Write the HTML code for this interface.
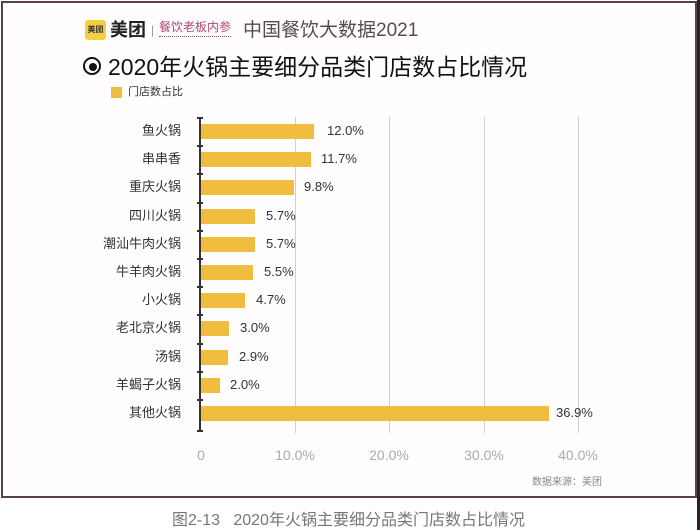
<!DOCTYPE html>
<html><head><meta charset="utf-8">
<style>
html,body{margin:0;padding:0;}
body{width:700px;height:530px;position:relative;background:#fff;overflow:hidden;font-family:"Liberation Sans","Noto Sans CJK SC",sans-serif;}
.abs{position:absolute;white-space:nowrap;}
.frame{position:absolute;left:1px;top:1px;width:692px;height:493px;border:2px solid #5a4048;background:#fffdfd;}
.rbar{position:absolute;left:697px;top:0;width:3px;height:530px;background:#2a2224;}
.cat{position:absolute;right:519px;font-size:13px;color:#333;line-height:16px;text-align:right;}
.bar{position:absolute;left:201px;height:15px;background:#f0bd3e;}
.val{position:absolute;font-size:13px;color:#333;line-height:16px;}
.grid{position:absolute;top:117px;width:1px;height:316px;background:#cfcfcf;}
.tick{position:absolute;font-size:14px;color:#aaa;line-height:16px;transform:translateX(-50%);}
.ht{position:absolute;left:197px;width:6px;height:1.5px;background:#333;}
</style></head><body>
<div class="frame"></div>
<div class="rbar"></div>

<!-- header -->
<div class="abs" style="left:85px;top:20px;width:21px;height:20px;background:#f3cf45;border-radius:3px;font-size:8px;line-height:20px;text-align:center;color:#333;font-weight:bold;">美团</div>
<div class="abs" style="left:110px;top:18px;font-size:18px;line-height:24px;font-weight:bold;color:#222;">美团</div>
<div class="abs" style="left:151px;top:21px;font-size:12px;line-height:18px;color:#999;">|</div>
<div class="abs" style="left:159px;top:19px;font-size:12px;line-height:16px;color:#b3477a;border-bottom:1px dotted #b3477a;padding-bottom:1px;">餐饮老板内参</div>
<div class="abs" style="left:243px;top:19px;font-size:19px;line-height:24px;color:#5a4a50;">中国餐饮大数据2021</div>

<!-- title -->
<div class="abs" style="left:83px;top:57px;width:14px;height:14px;border:2.5px solid #111;border-radius:50%;"></div>
<div class="abs" style="left:88.5px;top:62.5px;width:8px;height:8px;background:#111;border-radius:50%;"></div>
<div class="abs" style="left:108px;top:53px;font-size:23px;line-height:28px;color:#111;">2020年火锅主要细分品类门店数占比情况</div>

<!-- legend -->
<div class="abs" style="left:111px;top:87px;width:11px;height:11px;background:#f0bd3e;"></div>
<div class="abs" style="left:128px;top:85px;font-size:11px;line-height:15px;color:#333;">门店数占比</div>

<!-- grid -->
<div class="grid" style="left:295px;"></div>
<div class="grid" style="left:389px;"></div>
<div class="grid" style="left:484px;"></div>
<div class="grid" style="left:578px;"></div>

<!-- axis -->
<div class="abs" style="left:199px;top:117px;width:2px;height:315px;background:#333;"></div>
<div class="ht" style="top:117px;"></div>
<div class="ht" style="top:145px;"></div>
<div class="ht" style="top:173px;"></div>
<div class="ht" style="top:202px;"></div>
<div class="ht" style="top:230px;"></div>
<div class="ht" style="top:258px;"></div>
<div class="ht" style="top:286px;"></div>
<div class="ht" style="top:314px;"></div>
<div class="ht" style="top:343px;"></div>
<div class="ht" style="top:371px;"></div>
<div class="ht" style="top:399px;"></div>
<div class="ht" style="top:430px;"></div>

<!-- bars -->
<div class="cat" style="top:123px;">鱼火锅</div><div class="bar" style="top:124px;width:113px;"></div><div class="val" style="top:123px;left:327px;">12.0%</div>
<div class="cat" style="top:151px;">串串香</div><div class="bar" style="top:152px;width:110px;"></div><div class="val" style="top:151px;left:321px;">11.7%</div>
<div class="cat" style="top:179px;">重庆火锅</div><div class="bar" style="top:180px;width:93px;"></div><div class="val" style="top:179px;left:304px;">9.8%</div>
<div class="cat" style="top:208px;">四川火锅</div><div class="bar" style="top:209px;width:54px;"></div><div class="val" style="top:208px;left:266px;">5.7%</div>
<div class="cat" style="top:236px;">潮汕牛肉火锅</div><div class="bar" style="top:237px;width:54px;"></div><div class="val" style="top:236px;left:266px;">5.7%</div>
<div class="cat" style="top:264px;">牛羊肉火锅</div><div class="bar" style="top:265px;width:52px;"></div><div class="val" style="top:264px;left:264px;">5.5%</div>
<div class="cat" style="top:292px;">小火锅</div><div class="bar" style="top:293px;width:44px;"></div><div class="val" style="top:292px;left:256px;">4.7%</div>
<div class="cat" style="top:320px;">老北京火锅</div><div class="bar" style="top:321px;width:28px;"></div><div class="val" style="top:320px;left:240px;">3.0%</div>
<div class="cat" style="top:349px;">汤锅</div><div class="bar" style="top:350px;width:27px;"></div><div class="val" style="top:349px;left:239px;">2.9%</div>
<div class="cat" style="top:377px;">羊蝎子火锅</div><div class="bar" style="top:378px;width:19px;"></div><div class="val" style="top:377px;left:230px;">2.0%</div>
<div class="cat" style="top:405px;">其他火锅</div><div class="bar" style="top:406px;width:348px;"></div><div class="val" style="top:405px;left:556px;">36.9%</div>

<!-- x ticks -->
<div class="tick" style="left:201px;top:447px;">0</div>
<div class="tick" style="left:295px;top:447px;">10.0%</div>
<div class="tick" style="left:389px;top:447px;">20.0%</div>
<div class="tick" style="left:484px;top:447px;">30.0%</div>
<div class="tick" style="left:578px;top:447px;">40.0%</div>

<div class="abs" style="left:532px;top:476px;font-size:10px;line-height:13px;color:#888;">数据来源：美团</div>

<!-- caption -->
<div class="abs" style="left:172px;top:511px;font-size:16px;line-height:20px;color:#777;">图2-13&nbsp;&nbsp;&nbsp;2020年火锅主要细分品类门店数占比情况</div>
</body></html>
